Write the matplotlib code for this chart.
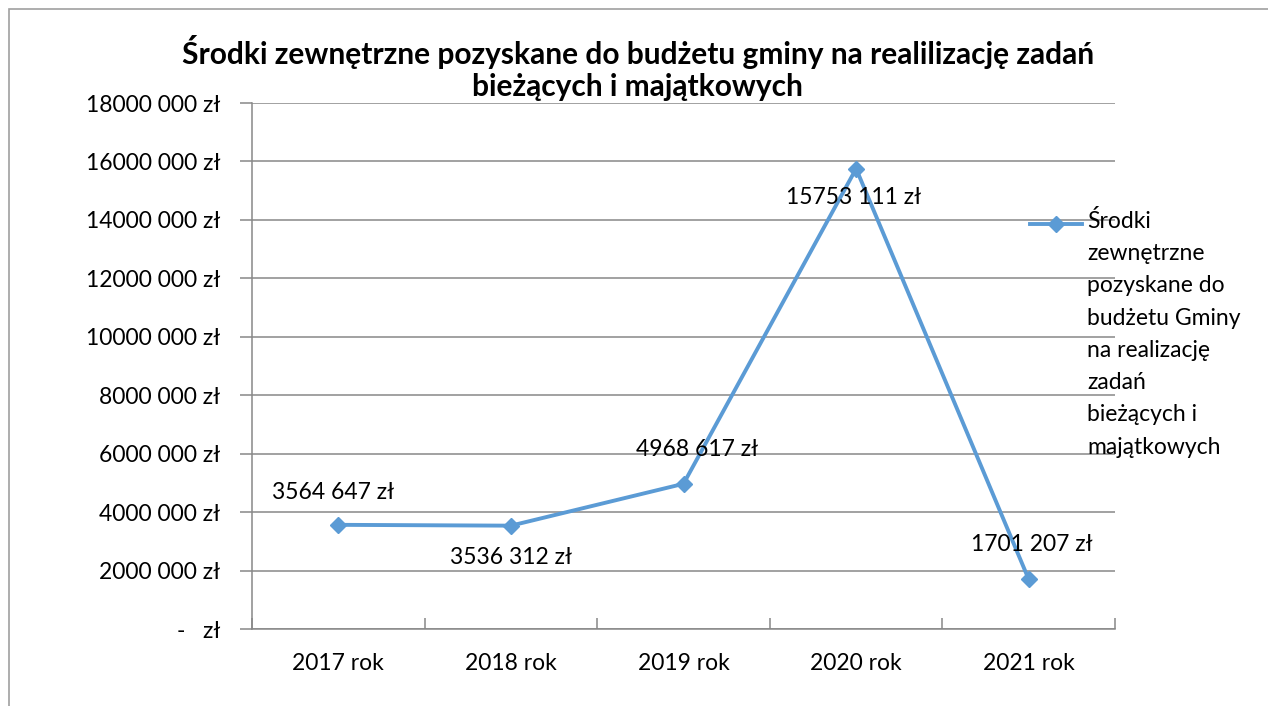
import matplotlib
matplotlib.use("Agg")
import matplotlib.pyplot as plt
from matplotlib.lines import Line2D
from matplotlib.patches import Rectangle

# dane
lata = ["2017 rok", "2018 rok", "2019 rok", "2020 rok", "2021 rok"]
srodki = [3564647, 3536312, 4968617, 15753111, 1701207]
# położenie etykiet danych (przesunięcie w punktach)
etykiety_offset = [(-4, 23), (0, -23), (10, 25), (-2, -21), (2, 25)]

y_ticks = list(range(0, 18000001, 2000000))
tytul = ["Środki zewnętrzne pozyskane do budżetu gminy na realilizację zadań",
         "bieżących i majątkowych"]
opis_serii = "Środki\nzewnętrzne\npozyskane do\nbudżetu Gminy\nna realizację\nzadań\nbieżących i\nmajątkowych"

plt.rcParams['font.family'] = ['Lato', 'DejaVu Sans']

KOLOR = "#5B9BD5"
SIATKA = "#888888"
FS = 16.5
W, H = 1268, 706


def fmt_zl(v):
    # format jak w Excelu: "15753 111 zł"
    if v == 0:
        return "-   zł"
    tys = v // 1000
    reszta = v % 1000
    return f"{tys} {reszta:03d} zł"


fig = plt.figure(figsize=(W / 100, H / 100), dpi=100)
fig.patches.append(Rectangle((9 / W, -0.1), 1.2, 1.1 - 9 / H, transform=fig.transFigure,
                             fill=False, edgecolor="#a0a0a0", linewidth=1.2))

ax = fig.add_axes([252 / W, 1 - 629 / H, 863 / W, 526 / H])
x = list(range(len(lata)))
ax.plot(x, srodki, color=KOLOR, linewidth=2.8, marker="D", markersize=8,
        markeredgecolor=KOLOR, zorder=3, clip_on=False)

for xi, v, off in zip(x, srodki, etykiety_offset):
    ax.annotate(fmt_zl(v), (xi, v), xytext=off, textcoords="offset points",
                ha="center", va="center", fontsize=FS, color="black")

ax.set_xlim(-0.5, len(lata) - 0.5)
ax.set_ylim(0, 18000000)
ax.set_yticks(y_ticks)
ax.set_yticklabels([fmt_zl(v) for v in y_ticks], fontsize=FS)
ax.yaxis.grid(True, color=SIATKA, linewidth=1.1)
ax.set_axisbelow(True)

ax.set_xticks([i - 0.5 for i in range(len(lata) + 1)])
ax.set_xticklabels([])
ax.set_xticks(x, minor=True)
ax.set_xticklabels(lata, minor=True, fontsize=FS)
ax.tick_params(axis="x", which="major", length=8, color=SIATKA, direction="in", width=1.1)
ax.tick_params(axis="x", which="minor", length=0, pad=17)
ax.tick_params(axis="y", length=9, color=SIATKA, width=1.1, pad=14)

for s in ["top", "right"]:
    ax.spines[s].set_visible(False)
for s in ["left", "bottom"]:
    ax.spines[s].set_color(SIATKA)
    ax.spines[s].set_linewidth(1.1)

# tytuł w dwóch liniach (osobne teksty)
for linia, y_pix in zip(tytul, [52, 87]):
    fig.text(0.503, 1 - y_pix / H, linia, ha="center", va="center",
             fontsize=21.5, fontweight="bold")

# legenda rysowana ręcznie (uchwyt przy pierwszej linii tekstu)
fig.add_artist(Line2D([1030 / W, 1082 / W], [1 - 224 / H, 1 - 224 / H], transform=fig.transFigure,
                      color=KOLOR, linewidth=2.8))
fig.add_artist(Line2D([1056 / W], [1 - 224 / H], transform=fig.transFigure,
                      color=KOLOR, marker="D", markersize=8, linestyle="none"))
fig.text(1087 / W, 1 - 210 / H, opis_serii, ha="left", va="top", fontsize=FS, linespacing=1.66)

fig.savefig("out.png", dpi=100)
